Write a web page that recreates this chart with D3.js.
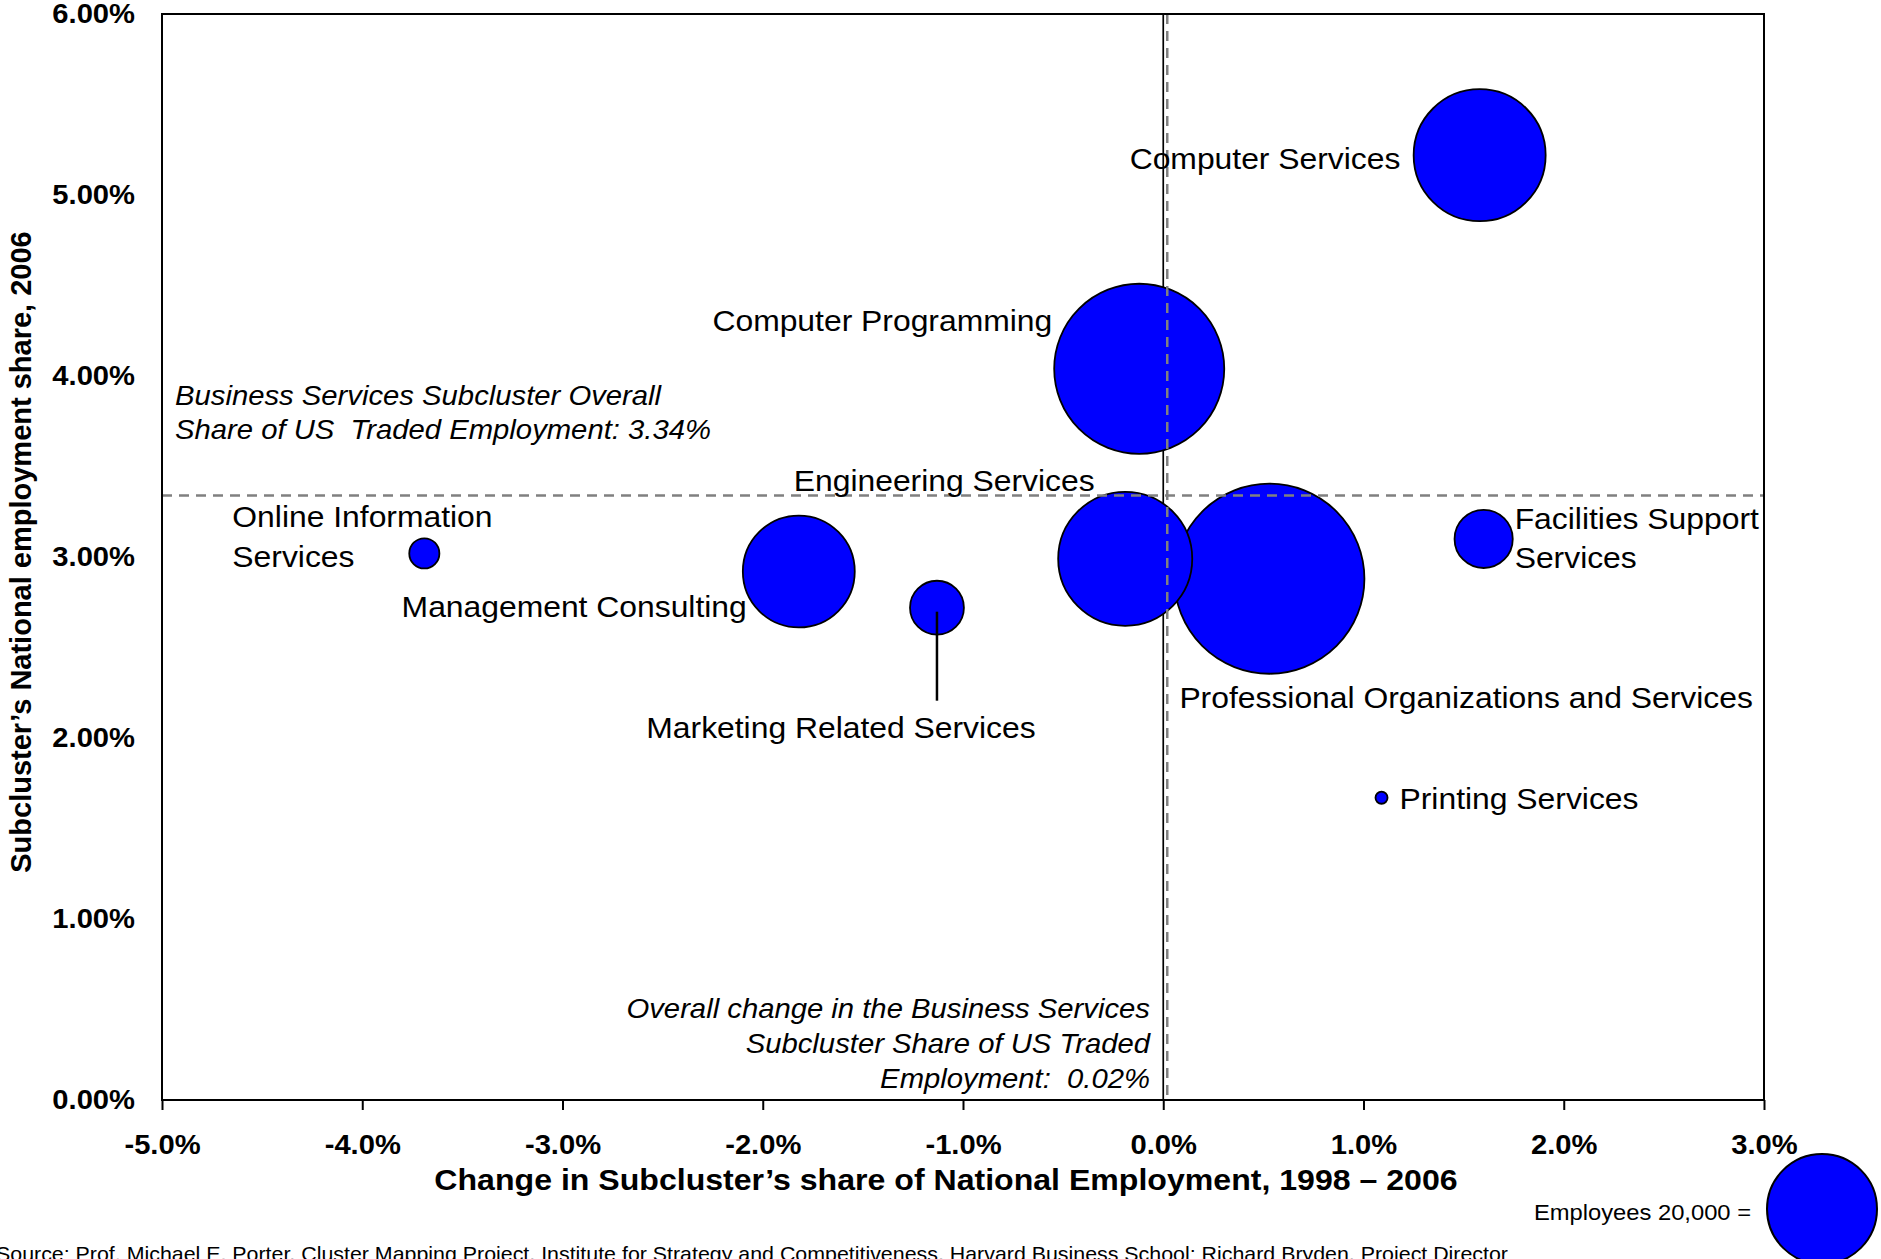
<!DOCTYPE html>
<html>
<head>
<meta charset="utf-8">
<script src="https://cdn.jsdelivr.net/npm/d3@7"></script>
<style>
  body { margin: 0; background: #fff; }
  svg { display: block; font-family: "Liberation Sans", Arial, sans-serif; }
  text { white-space: pre; }
</style>
</head>
<body>
<script>
// subcluster data
var subclusters = ["Computer Services", "Computer Programming", "Engineering Services",
    "Professional Organizations and Services", "Facilities Support Services", "Printing Services",
    "Online Information Services", "Management Consulting", "Marketing Related Services"];
var shareChange = [1.58, -0.12, -0.19, 0.53, 1.60, 1.09, -3.69, -1.82, -1.13];   // % change 1998-2006
var share2006   = [5.22, 4.04, 2.99, 2.88, 3.10, 1.67, 3.02, 2.92, 2.72];         // % share 2006
var employees   = [28800, 47800, 29700, 59700, 5600, 240, 1500, 20700, 4800];

var xTicks = [-5, -4, -3, -2, -1, 0, 1, 2, 3];
var yTicks = [0, 1, 2, 3, 4, 5, 6];
var overallShare = 3.34;
var overallChange = 0.02;
var legendEmployees = 20000;

// label placement (offset from bubble centre), layout only
var labelLayout = {
    "Computer Services": {anchor: "start", dx: -350, dy: [14]},
    "Computer Programming": {anchor: "end", dx: -87, dy: [-38]},
    "Engineering Services": {anchor: "middle", dx: -181, dy: [-68]},
    "Professional Organizations and Services": {anchor: "start", dx: -90, dy: [129]},
    "Facilities Support Services": {anchor: "start", dx: 31, dy: [-10, 29], lines: ["Facilities Support", "Services"]},
    "Printing Services": {anchor: "start", dx: 18, dy: [11]},
    "Online Information Services": {anchor: "start", dx: -192, dy: [-26, 14], lines: ["Online Information", "Services"]},
    "Management Consulting": {anchor: "end", dx: -52, dy: [46]},
    "Marketing Related Services": {anchor: "middle", dx: -96, dy: [130]}
};

var W = 1881, H = 1259;
var SX = 1.08; // the original text is slightly wide
var svg = d3.select("body").append("svg").attr("width", W).attr("height", H);

var x = d3.scaleLinear().domain([-5, 3]).range([162, 1764]);
var y = d3.scaleLinear().domain([0, 6]).range([1100, 14]);
var r = d3.scaleSqrt().domain([0, legendEmployees]).range([0, 55]);

function txt(g, px, py, str, o){
    o = o || {};
    return g.append("text")
        .attr("transform", "translate(" + px + "," + py + ") scale(" + (o.sx || SX) + ",1)")
        .attr("text-anchor", o.anchor || "start")
        .style("font-size", (o.size || 29.5) + "px")
        .style("font-weight", o.bold ? "bold" : "normal")
        .style("font-style", o.italic ? "italic" : "normal")
        .style("fill", "#000")
        .text(str);
}

// solid zero line (under bubbles)
svg.append("line")
    .attr("x1", x(0)).attr("x2", x(0))
    .attr("y1", y(6)).attr("y2", y(0))
    .style("stroke", "#000").style("stroke-width", 1.7);

// bubbles
var data = subclusters.map(function(name, i){
    return {name: name, dx: shareChange[i], sy: share2006[i], emp: employees[i]};
});
var sorted = data.slice().sort(function(a, b){ return b.emp - a.emp; });
svg.selectAll("circle.bubble")
    .data(sorted)
    .enter().append("circle")
    .attr("class", "bubble")
    .attr("cx", function(d){ return x(d.dx); })
    .attr("cy", function(d){ return y(d.sy); })
    .attr("r", function(d){ return r(d.emp); })
    .style("fill", "#0000ff")
    .style("stroke", "#000")
    .style("stroke-width", 1.8);

// overall reference lines (dashed, over bubbles)
svg.append("line")
    .attr("x1", x(-5)).attr("x2", x(3))
    .attr("y1", y(overallShare)).attr("y2", y(overallShare))
    .style("stroke", "#808080").style("stroke-width", 2.5).style("stroke-dasharray", "10,7");
svg.append("line")
    .attr("x1", x(overallChange)).attr("x2", x(overallChange))
    .attr("y1", y(6)).attr("y2", y(0))
    .style("stroke", "#808080").style("stroke-width", 2.5).style("stroke-dasharray", "10,7");

// plot frame
svg.append("rect")
    .attr("x", x(-5)).attr("y", y(6))
    .attr("width", x(3) - x(-5)).attr("height", y(0) - y(6))
    .style("fill", "none").style("stroke", "#000").style("stroke-width", 2);

// axes
var gx = svg.append("g").attr("transform", "translate(0," + y(0) + ")")
    .call(d3.axisBottom(x).tickValues(xTicks).tickSize(10).tickPadding(25)
        .tickFormat(function(d){ return d.toFixed(1) + "%"; }));
var gy = svg.append("g").attr("transform", "translate(" + x(-5) + ",0)")
    .call(d3.axisLeft(y).tickValues(yTicks).tickSize(0).tickPadding(25)
        .tickFormat(function(d){ return d.toFixed(2) + "%"; }));
[gx, gy].forEach(function(g){
    g.select(".domain").remove();
    g.selectAll(".tick line").style("stroke", "#000").style("stroke-width", 2);
    g.selectAll(".tick text")
        .attr("transform", "scale(" + SX + ",1)")
        .style("font-family", "\"Liberation Sans\", Arial, sans-serif")
        .style("font-size", "27px").style("font-weight", "bold").style("fill", "#000");
});

// bubble labels
var labels = svg.append("g");
data.forEach(function(d){
    var L = labelLayout[d.name];
    var lines = L.lines || [d.name];
    lines.forEach(function(s, k){
        txt(labels, x(d.dx) + L.dx, y(d.sy) + L.dy[k], s, {anchor: L.anchor});
    });
});
// leader for marketing
var mk = data[8];
svg.append("line")
    .attr("x1", x(mk.dx)).attr("x2", x(mk.dx))
    .attr("y1", y(mk.sy) + 4).attr("y2", y(mk.sy) + 93)
    .style("stroke", "#000").style("stroke-width", 2.5);

// annotations
txt(svg, 175, 405, "Business Services Subcluster Overall", {italic: true, size: 27.1});
txt(svg, 175, 439, "Share of US  Traded Employment: " + overallShare.toFixed(2) + "%", {italic: true, size: 27.1});
txt(svg, 1150, 1018, "Overall change in the Business Services", {italic: true, size: 27.1, anchor: "end"});
txt(svg, 1150, 1053, "Subcluster Share of US Traded", {italic: true, size: 27.1, anchor: "end"});
txt(svg, 1150, 1088, "Employment:  " + overallChange.toFixed(2) + "%", {italic: true, size: 27.1, anchor: "end"});

// axis titles
txt(svg, 946, 1190, "Change in Subcluster\u2019s share of National Employment, 1998 \u2013 2006",
    {bold: true, size: 30, anchor: "middle", sx: 1.07});
svg.append("text")
    .attr("transform", "translate(31,552) rotate(-90)")
    .attr("text-anchor", "middle")
    .style("font-size", "29px").style("font-weight", "bold")
    .text("Subcluster\u2019s National employment share, 2006");

// size legend
txt(svg, 1751, 1220, "Employees 20,000 =", {size: 22, anchor: "end"});
svg.append("circle")
    .attr("cx", 1822).attr("cy", 1209).attr("r", r(legendEmployees))
    .style("fill", "#0000ff").style("stroke", "#000").style("stroke-width", 2);

// source
txt(svg, -4, 1261, "Source: Prof. Michael E. Porter, Cluster Mapping Project, Institute for Strategy and Competitiveness, Harvard Business School; Richard Bryden, Project Director",
    {size: 19.8});
</script>
</body>
</html>
